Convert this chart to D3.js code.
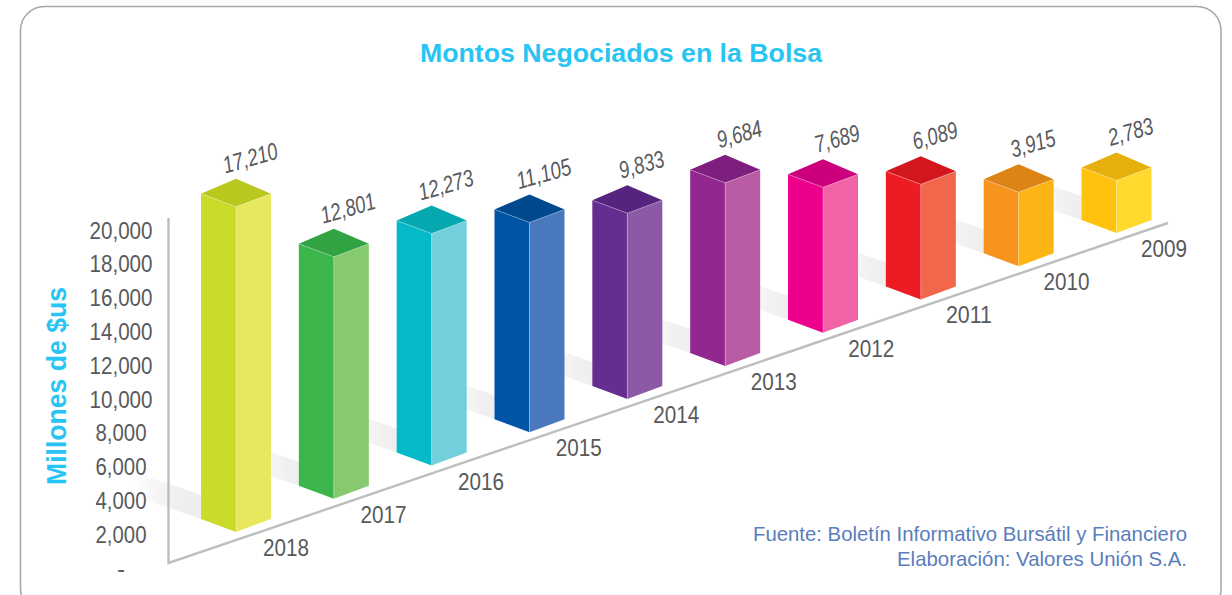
<!DOCTYPE html>
<html><head><meta charset="utf-8">
<script src="https://cdn.jsdelivr.net/npm/d3@7/dist/d3.min.js"></script>
<style>html,body{margin:0;background:#fff;overflow:hidden}svg{display:block}</style>
</head><body><svg id="c" width="1232" height="595"></svg>
<script>
const years = [2018,2017,2016,2015,2014,2013,2012,2011,2010,2009];
const values = [17210,12801,12273,11105,9833,9684,7689,6089,3915,2783];
const axisTicks = [0,2000,4000,6000,8000,10000,12000,14000,16000,18000,20000];
const titleText = "Montos Negociados en la Bolsa";
const yTitleText = "Millones de $us";
const sourceLines = ["Fuente: Boletín Informativo Bursátil y Financiero","Elaboración: Valores Unión S.A."];
const frontColors = ["#cbdb2a","#3cb54a","#04bac9","#0054a6","#662d91","#92278f","#ec008c","#ed1c24","#f7941d","#ffc20e"];
const sideColors  = ["#e8e85f","#86c96f","#72cfdb","#4a78bd","#8b59a6","#b95ca5","#f263a6","#f26649","#fdb515","#ffd92b"];
const topColors   = ["#b9c81f","#31a343","#06a8b0","#00498f","#56247f","#7e1f80","#cc007c","#d3171f","#dd8417","#e5b00c"];

const GREY="#58595b", CYAN="#27c4f4", FONT="'Liberation Sans',Arial,sans-serif";
const svg=d3.select("#c");
const defs=svg.append("defs");
const gradLong=defs.append("linearGradient").attr("id","shadeLong");
gradLong.append("stop").attr("offset","0").attr("stop-color","#f0f0f1").attr("stop-opacity",0);
gradLong.append("stop").attr("offset",".6").attr("stop-color","#f0f0f1");
gradLong.append("stop").attr("offset","1").attr("stop-color","#eeeeef");
const gradShort=defs.append("linearGradient").attr("id","shadeShort");
gradShort.append("stop").attr("offset","0").attr("stop-color","#f5f5f6");
gradShort.append("stop").attr("offset",".6").attr("stop-color","#f0f0f1");
gradShort.append("stop").attr("offset","1").attr("stop-color","#eeeeef");

// card
svg.append("rect").attr("x",20.5).attr("y",6.5).attr("width",1200.5).attr("height",606).attr("rx",24)
  .attr("fill","#fff").attr("stroke","#a7a9ac").attr("stroke-width",1.6);

// scales: each bar stands on a floor point that climbs the sloped axis
const floorX=d3.scalePoint().domain(years).range([201,1081.5]);
const floorY=d3.scalePoint().domain(years).range([519,220]);
const labelX=d3.scalePoint().domain(years).range([286,1164]);
const barH=d3.scaleLinear().domain([0,20000]).range([0,378]);
const HW=35, DROP=13, RISE=15;

// shadows on the floor
const gap=[70].concat(years.slice(1).map(()=>29));
svg.append("g").selectAll("path").data(years).join("path")
  .attr("fill",(y,i)=>i===0?"url(#shadeLong)":"url(#shadeShort)")
  .attr("d",(y,i)=>{
    const x=floorX(y),b=floorY(y),w=gap[i],dy=w*0.345,h=24;
    return `M${x},${b}L${x-w},${b-dy}L${x-w},${b-dy-h}L${x},${b-h}Z`;
  });

// axis frame
svg.append("path").attr("fill","none").attr("stroke","#bcbec0").attr("stroke-width",2.4)
  .attr("d","M168.5,218V563L1168,223");

// y axis
const yAxisScale=d3.scaleLinear().domain([0,20000]).range([568,230]);
const yAxis=d3.axisLeft(yAxisScale).tickValues(axisTicks).tickSize(0)
  .tickFormat(d=>d===0?"-":d3.format(",")(d));
const yg=svg.append("g").attr("transform","translate(121,0)").call(yAxis);
yg.select(".domain").remove();
yg.selectAll("text").attr("x",0).attr("dy",0).attr("dominant-baseline","central")
  .attr("text-anchor","middle").attr("font-family",FONT).attr("font-size",23)
  .attr("fill",GREY).attr("textLength",d=>d===0?null:(d>=10000?63:51)).attr("lengthAdjust","spacingAndGlyphs");

// bars
const bars=svg.append("g").selectAll("g").data(years).join("g");
const seam="rgba(255,255,255,.35)";
bars.each(function(y,i){
  const g=d3.select(this),L=floorX(y),C=L+HW,R=L+2*HW,b=floorY(y),t=b-barH(values[i]);
  const face=(pts,fill)=>g.append("polygon").attr("points",pts.map(p=>p.join(",")).join(" ")).attr("fill",fill);
  face([[L,t],[C,t+DROP],[C,b+DROP],[L,b]],frontColors[i]);
  face([[C,t+DROP],[R,t],[R,b],[C,b+DROP]],sideColors[i]);
  face([[L,t],[C,t-RISE],[R,t],[C,t+DROP]],topColors[i]);
  g.append("path").attr("fill","none").attr("stroke",seam).attr("stroke-width",.8)
    .attr("d",`M${L},${t}L${C},${t+DROP}L${R},${t}M${C},${t+DROP}V${b+DROP}`);
});

// value labels
svg.append("g").selectAll("text").data(years).join("text")
  .attr("transform",(y,i)=>`translate(${floorX(y)+HW+14},${floorY(y)-barH(values[i])-RISE-21}) rotate(-16)`)
  .attr("text-anchor","middle").attr("dominant-baseline","central")
  .attr("font-family",FONT).attr("font-style","italic").attr("font-size",24).attr("fill",GREY)
  .attr("textLength",(y,i)=>values[i]>=10000?56:46).attr("lengthAdjust","spacingAndGlyphs")
  .text((y,i)=>d3.format(",")(values[i]));

// year labels
svg.append("g").selectAll("text").data(years).join("text")
  .attr("x",y=>labelX(y)).attr("y",y=>floorY(y)+29)
  .attr("text-anchor","middle").attr("dominant-baseline","central")
  .attr("font-family",FONT).attr("font-size",23).attr("fill",GREY)
  .attr("textLength",46).attr("lengthAdjust","spacingAndGlyphs").text(y=>y);

// titles
svg.append("text").attr("x",621).attr("y",53).attr("text-anchor","middle").attr("dominant-baseline","central")
  .attr("font-family",FONT).attr("font-weight",700).attr("font-size",25.5).attr("fill",CYAN)
  .attr("textLength",402).attr("lengthAdjust","spacingAndGlyphs").text(titleText);
svg.append("text").attr("transform","translate(57,386) rotate(-90)").attr("text-anchor","middle").attr("dominant-baseline","central")
  .attr("font-family",FONT).attr("font-weight",700).attr("font-size",27).attr("fill",CYAN)
  .attr("textLength",198).attr("lengthAdjust","spacingAndGlyphs").text(yTitleText);

// source
const srcLen=[434,290];
svg.append("g").selectAll("text").data(sourceLines).join("text")
  .attr("x",1187).attr("y",(d,i)=>533+i*25).attr("text-anchor","end").attr("dominant-baseline","central")
  .attr("font-family",FONT).attr("font-size",21).attr("fill","#5a7dbb")
  .attr("textLength",(d,i)=>srcLen[i]).attr("lengthAdjust","spacingAndGlyphs").text(d=>d);
</script></body></html>
